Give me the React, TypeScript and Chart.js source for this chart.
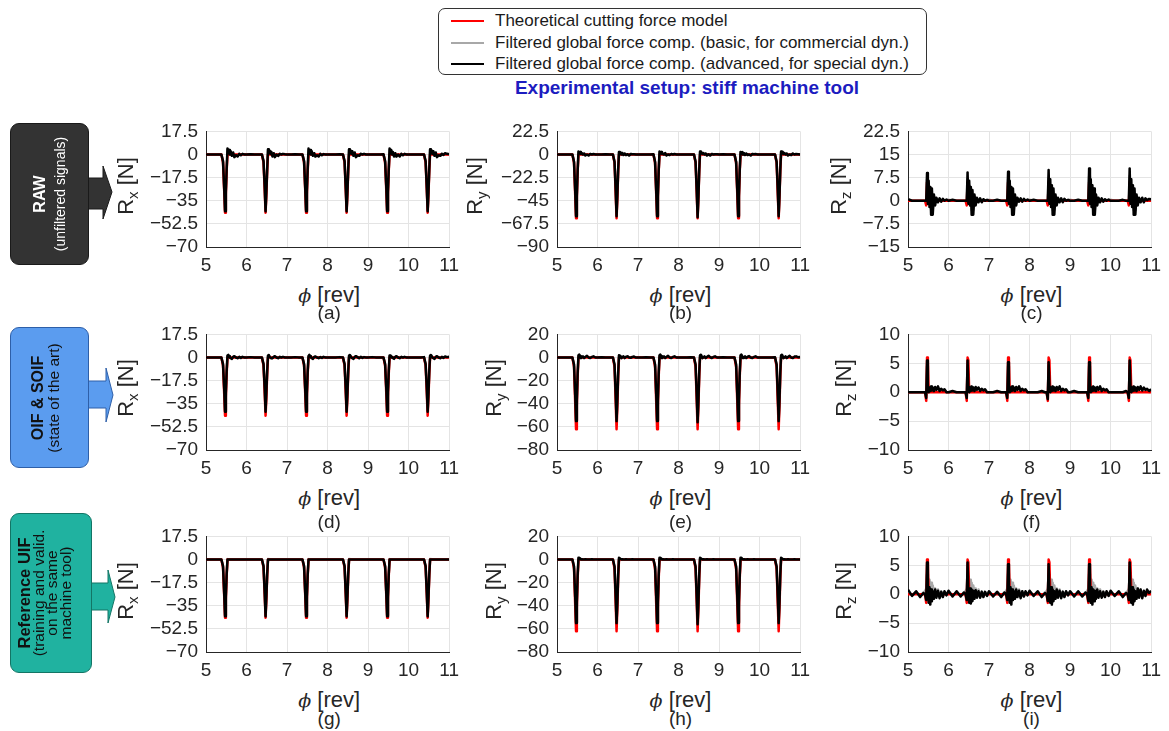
import React, { useEffect, useRef } from "react";
import { Chart, registerables } from "chart.js";

Chart.register(...registerables);

// ---- shaft angle sampling: every revolution uses the same in-revolution positions ----
const REV_STARTS = [5, 6, 7, 8, 9, 10];
const REV_OFFSETS = [0, 0.1, 0.2, 0.3, 0.38, 0.42, 0.45, 0.47, 0.49, 0.51, 0.53, 0.55, 0.57, 0.59, 0.61, 0.64, 0.67, 0.7, 0.74, 0.78, 0.82, 0.86, 0.9, 0.95];
const PHI_END = 11;
const PHI: number[] = REV_STARTS.flatMap((r) => REV_OFFSETS.map((o) => Math.round((r + o) * 100) / 100)).concat([PHI_END]);

// ---- tick labels ----
const PHI_TICKS = [5, 6, 7, 8, 9, 10, 11];
const RX_TICKS = [-70, -52.5, -35, -17.5, 0, 17.5];
const RY_RAW_TICKS = [-90, -67.5, -45, -22.5, 0, 22.5];
const RZ_RAW_TICKS = [-15, -7.5, 0, 7.5, 15, 22.5];
const RY_TICKS = [-80, -60, -40, -20, 0, 20];
const RZ_TICKS = [-10, -5, 0, 5, 10];

// ---- theoretical cutting force model [N] ----
const MODEL_RX = [
  0, 0, 0, 0, 0, -6, -28, -44, -30, -12, 0, 0, 0, 0, 0, 0, 0, 0, 0, 0, 0, 0, 0, 0,
  0, 0, 0, 0, 0, -6, -28, -44, -30, -12, 0, 0, 0, 0, 0, 0, 0, 0, 0, 0, 0, 0, 0, 0,
  0, 0, 0, 0, 0, -6, -28, -44, -30, -12, 0, 0, 0, 0, 0, 0, 0, 0, 0, 0, 0, 0, 0, 0,
  0, 0, 0, 0, 0, -6, -28, -44, -30, -12, 0, 0, 0, 0, 0, 0, 0, 0, 0, 0, 0, 0, 0, 0,
  0, 0, 0, 0, 0, -6, -28, -44, -30, -12, 0, 0, 0, 0, 0, 0, 0, 0, 0, 0, 0, 0, 0, 0,
  0, 0, 0, 0, 0, -6, -28, -44, -30, -12, 0, 0, 0, 0, 0, 0, 0, 0, 0, 0, 0, 0, 0, 0,
  0,
];
const MODEL_RY = [
  0, 0, 0, 0, 0, -8, -40, -62, -42, -16, 0, 0, 0, 0, 0, 0, 0, 0, 0, 0, 0, 0, 0, 0,
  0, 0, 0, 0, 0, -8, -40, -62, -42, -16, 0, 0, 0, 0, 0, 0, 0, 0, 0, 0, 0, 0, 0, 0,
  0, 0, 0, 0, 0, -8, -40, -62, -42, -16, 0, 0, 0, 0, 0, 0, 0, 0, 0, 0, 0, 0, 0, 0,
  0, 0, 0, 0, 0, -8, -40, -62, -42, -16, 0, 0, 0, 0, 0, 0, 0, 0, 0, 0, 0, 0, 0, 0,
  0, 0, 0, 0, 0, -8, -40, -62, -42, -16, 0, 0, 0, 0, 0, 0, 0, 0, 0, 0, 0, 0, 0, 0,
  0, 0, 0, 0, 0, -8, -40, -62, -42, -16, 0, 0, 0, 0, 0, 0, 0, 0, 0, 0, 0, 0, 0, 0,
  0,
];
const MODEL_RZ = [
  0, 0, 0, 0, 0, 0, -1.5, 6, 5.5, 0, 0, 0, 0, 0, 0, 0, 0, 0, 0, 0, 0, 0, 0, 0,
  0, 0, 0, 0, 0, 0, -1.5, 6, 5.5, 0, 0, 0, 0, 0, 0, 0, 0, 0, 0, 0, 0, 0, 0, 0,
  0, 0, 0, 0, 0, 0, -1.5, 6, 5.5, 0, 0, 0, 0, 0, 0, 0, 0, 0, 0, 0, 0, 0, 0, 0,
  0, 0, 0, 0, 0, 0, -1.5, 6, 5.5, 0, 0, 0, 0, 0, 0, 0, 0, 0, 0, 0, 0, 0, 0, 0,
  0, 0, 0, 0, 0, 0, -1.5, 6, 5.5, 0, 0, 0, 0, 0, 0, 0, 0, 0, 0, 0, 0, 0, 0, 0,
  0, 0, 0, 0, 0, 0, -1.5, 6, 5.5, 0, 0, 0, 0, 0, 0, 0, 0, 0, 0, 0, 0, 0, 0, 0,
  0,
];

// ---- RAW (unfiltered signals) ----
const RAW_RX_BLACK = [
  0, 0, 0, 0, 0, -5, -26, -43, -28, -11, 4.5, 1, 3.5, 0, 2.5, -1, 1.5, -2, -0.5, -1.5, 0.5, -0.5, 0.5, 0,
  0, 0.2, 0, 0, 0, -5, -25, -43, -28, -11, 4, 1.5, 3, 0.5, 2, -1.5, 1, -2, 0, -1, 0.5, 0, 0.5, 0.2,
  0, 0, 0.2, 0, 0, -5, -26, -43, -27, -10, 4.5, 0.5, 3.5, 0, 2.5, -1, 1, -1.5, -0.5, -1.5, 0.5, -0.5, 0.3, 0,
  0, 0, 0, 0.2, 0, -5, -26, -43, -28, -11, 4, 1, 3, 0.5, 2.5, -1, 1.5, -2, -0.5, -1, 0.5, 0, 0.5, 0,
  0, 0, 0, 0, 0.2, -5, -25, -43, -28, -11, 4.5, 1, 3.5, 0, 2, -1.5, 1, -1.5, 0, -1.5, 0.5, -0.5, 0.5, 0,
  0, 0, 0, 0, 0, -5, -26, -43, -28, -11, 4, 1, 3, 0.5, 2.5, -1, 1.5, -2, -0.5, -1, 0.5, -0.3, 1, 0.5,
  0.3,
];
const RAW_RX_GRAY = [
  0, 0, 0, 0, 0, -5, -26, -42, -28, -11, 3.5, 1.5, 2.5, 0.5, 2, -0.5, 1, -1.5, -0.5, -1, 0.5, 0, 0.3, 0,
  0, 0, 0, 0, 0, -5, -26, -42, -28, -11, 3.5, 1.5, 2.5, 0.5, 2, -0.5, 1, -1.5, -0.5, -1, 0.5, 0, 0.3, 0,
  0, 0, 0, 0, 0, -5, -26, -42, -28, -11, 3.5, 1.5, 2.5, 0.5, 2, -0.5, 1, -1.5, -0.5, -1, 0.5, 0, 0.3, 0,
  0, 0, 0, 0, 0, -5, -26, -42, -28, -11, 3.5, 1.5, 2.5, 0.5, 2, -0.5, 1, -1.5, -0.5, -1, 0.5, 0, 0.3, 0,
  0, 0, 0, 0, 0, -5, -26, -42, -28, -11, 3.5, 1.5, 2.5, 0.5, 2, -0.5, 1, -1.5, -0.5, -1, 0.5, 0, 0.3, 0,
  0, 0, 0, 0, 0, -5, -26, -42, -28, -11, 3.5, 1.5, 2.5, 0.5, 2, -0.5, 1, -1.5, -0.5, -1, 0.5, 0, 0.3, 0,
  0,
];
const RAW_RY_BLACK = [
  0, 0, 0, 0, 0, -7, -36, -60, -40, -15, 3, 1, 2.5, 0.5, 1.5, 0, 1, -1, 0, -1, 0.5, 0, 0.5, 0,
  0, 0, 0.3, 0, 0, -7, -36, -60, -39, -14, 2.5, 1.5, 2, 0, 1.5, -0.5, 1, -0.5, 0.3, -1, 0.5, 0.2, 0.3, 0,
  0, 0, 0, 0, 0.2, -7, -37, -60, -40, -15, 3, 1, 2.5, 0.5, 1, 0, 1.5, -1, 0, -0.5, 0.5, 0, 0.5, 0,
  0, 0, 0, 0, 0, -7, -37, -61, -41, -15, 3, 1, 2, 0.5, 1.5, 0, 1, -1, 0.3, -1, 0.5, 0, 0.3, 0.2,
  0, 0.2, 0, 0, 0, -7, -36, -60, -40, -14, 2.5, 1.5, 2.5, 0, 1.5, -0.5, 1, -0.5, 0, -1, 0.5, 0.2, 0.5, 0,
  0, 0, 0, 0, 0, -7, -36, -60, -40, -15, 3, 1, 2.5, 0.5, 1.5, 0, 1, -1, 0, -0.5, 1, 0, 0.5, 0.3,
  0,
];
const RAW_RY_GRAY = [
  0, 0, 0, 0, 0, -7, -36, -59, -39, -15, 2.5, 1.5, 2, 0.5, 1, 0, 1, -0.5, 0, -0.5, 0.5, 0, 0.3, 0,
  0, 0, 0, 0, 0, -7, -36, -59, -39, -15, 2.5, 1.5, 2, 0.5, 1, 0, 1, -0.5, 0, -0.5, 0.5, 0, 0.3, 0,
  0, 0, 0, 0, 0, -7, -36, -59, -39, -15, 2.5, 1.5, 2, 0.5, 1, 0, 1, -0.5, 0, -0.5, 0.5, 0, 0.3, 0,
  0, 0, 0, 0, 0, -7, -36, -59, -39, -15, 2.5, 1.5, 2, 0.5, 1, 0, 1, -0.5, 0, -0.5, 0.5, 0, 0.3, 0,
  0, 0, 0, 0, 0, -7, -36, -59, -39, -15, 2.5, 1.5, 2, 0.5, 1, 0, 1, -0.5, 0, -0.5, 0.5, 0, 0.3, 0,
  0, 0, 0, 0, 0, -7, -36, -59, -39, -15, 2.5, 1.5, 2, 0.5, 1, 0, 1, -0.5, 0, -0.5, 0.5, 0, 0.3, 0,
  0,
];
const RAW_RZ_BLACK = [
  0.5, 0, 0, 0, 0, 0, 0, 9, -1, 6.5, -2, 4.5, -4.5, 4, -4.5, 2, -1.5, 1, -0.5, 0.8, -0.3, 0.6, 0, 0.4,
  0, 0.3, 0, 0, 0, 0, 0, 9.2, -1, 6.5, -1.5, 4.5, -4.5, 3.5, -4.5, 2, -1.5, 1, -0.5, 0.8, -0.5, 0.5, 0, 0.3,
  0, 0, 0.3, 0, 0, 0, 0, 9.4, -1, 6.5, -2, 4.5, -4.5, 4, -4.5, 2, -1.5, 1, -0.3, 0.8, -0.3, 0.6, 0, 0.4,
  0, 0.3, 0, 0, 0, 0, 0, 10, -1, 7, -2, 5, -4.5, 4, -4.5, 2, -1.5, 1, -0.5, 0.8, -0.5, 0.6, 0, 0.3,
  0, 0, 0.3, 0, 0, 0, 0, 10.5, -1, 7, -2, 5, -4.5, 4, -4.5, 2, -1.5, 1, -0.5, 0.8, -0.3, 0.5, 0, 0.4,
  0, 0, 0, 0.3, 0, 0, 0, 10.5, -1, 7, -2, 5, -4.5, 4, -4.5, 2, -1.5, 1, -0.5, 1, -0.5, 0.8, 0.2, 0.6,
  0.5,
];
const RAW_RZ_GRAY = [
  0.3, 0, 0, 0, 0, 0, 0, 7, 0, 5, -1, 3.5, -3, 3, -3, 1.5, -1, 0.8, -0.3, 0.5, -0.2, 0.4, 0, 0.2,
  0.3, 0, 0, 0, 0, 0, 0, 7, 0, 5, -1, 3.5, -3, 3, -3, 1.5, -1, 0.8, -0.3, 0.5, -0.2, 0.4, 0, 0.2,
  0.3, 0, 0, 0, 0, 0, 0, 7, 0, 5, -1, 3.5, -3, 3, -3, 1.5, -1, 0.8, -0.3, 0.5, -0.2, 0.4, 0, 0.2,
  0.3, 0, 0, 0, 0, 0, 0, 7.5, 0, 5, -1, 3.5, -3, 3, -3, 1.5, -1, 0.8, -0.3, 0.5, -0.2, 0.4, 0, 0.2,
  0.3, 0, 0, 0, 0, 0, 0, 8, 0, 5, -1, 3.5, -3, 3, -3, 1.5, -1, 0.8, -0.3, 0.5, -0.2, 0.4, 0, 0.2,
  0.3, 0, 0, 0, 0, 0, 0, 8, 0, 5, -1, 3.5, -3, 3, -3, 1.5, -1, 0.8, -0.3, 0.5, -0.2, 0.4, 0, 0.2,
  0.3,
];

// ---- OIF & SOIF (state of the art) ----
const OIF_RX_BLACK = [
  0, 0, 0, 0, 0, -5, -24, -41, -27, -10, 1.5, 2, 1, 0, -0.5, -1, 0.5, 1, 0, -0.5, 0.5, -0.3, 0.5, 0,
  0, 0.3, 0, 0, 0, -5, -24, -41, -26, -10, 1.5, 2, 0.5, 0, -0.5, -0.5, 0.5, 1, 0, -0.5, 0.5, 0, 0.5, 0,
  0, 0, 0.3, 0, 0, -5, -25, -41, -27, -10, 1, 2, 1, 0.3, -0.5, -1, 0.5, 0.8, 0, -0.5, 0.3, -0.3, 0.5, 0,
  0, 0, 0, 0.3, 0, -5, -24, -41, -27, -10, 1.5, 2, 1, 0, -0.5, -1, 0.5, 1, 0.3, -0.5, 0.5, -0.3, 0.3, 0,
  0, 0.3, 0, 0, 0, -5, -24, -41, -26, -10, 1.5, 1.5, 1, 0, -0.3, -1, 0.5, 1, 0, -0.5, 0.5, 0, 0.5, 0,
  0, 0, 0, 0, 0.3, -5, -24, -41, -27, -10, 1.5, 2, 1, 0, -0.5, -1, 0.5, 1, 0, -0.5, 0.5, -0.3, 0.8, 0.3,
  0.5,
];
const OIF_RX_GRAY = [
  0, 0, 0, 0, 0, -5, -24, -40, -26, -10, 1, 1.5, 1, 0.3, -0.3, -0.5, 0.3, 0.8, 0, -0.3, 0.3, 0, 0.3, 0,
  0, 0, 0, 0, 0, -5, -24, -40, -26, -10, 1, 1.5, 1, 0.3, -0.3, -0.5, 0.3, 0.8, 0, -0.3, 0.3, 0, 0.3, 0,
  0, 0, 0, 0, 0, -5, -24, -40, -26, -10, 1, 1.5, 1, 0.3, -0.3, -0.5, 0.3, 0.8, 0, -0.3, 0.3, 0, 0.3, 0,
  0, 0, 0, 0, 0, -5, -24, -40, -26, -10, 1, 1.5, 1, 0.3, -0.3, -0.5, 0.3, 0.8, 0, -0.3, 0.3, 0, 0.3, 0,
  0, 0, 0, 0, 0, -5, -24, -40, -26, -10, 1, 1.5, 1, 0.3, -0.3, -0.5, 0.3, 0.8, 0, -0.3, 0.3, 0, 0.3, 0,
  0, 0, 0, 0, 0, -5, -24, -40, -26, -10, 1, 1.5, 1, 0.3, -0.3, -0.5, 0.3, 0.8, 0, -0.3, 0.3, 0, 0.3, 0,
  0.3,
];
const OIF_RY_BLACK = [
  0, 0, 0, 0, 0, -6, -33, -55, -37, -13, 2, 2.5, 1, -0.5, 0, 1, -0.5, 0.5, 1.5, 0, -0.5, 0.5, 1, 0,
  0, 0.3, 0, 0, 0, -6, -33, -55, -36, -13, 2, 2, 1, -0.5, 0.3, 1, -0.5, 0.5, 1, 0, -0.3, 0.5, 0.8, 0,
  0, 0, 0.3, 0, 0, -6, -33, -55, -37, -13, 2, 2.5, 1, -0.5, 0, 1, -0.5, 0.5, 1.5, 0, -0.5, 0.5, 1, 0,
  0, 0, 0, 0.3, 0, -6, -34, -56, -37, -13, 2, 2.5, 1, -0.5, 0, 1, -0.5, 0.5, 1.5, 0.3, -0.5, 0.5, 1, 0,
  0, 0.3, 0, 0, 0, -6, -33, -55, -37, -13, 2, 2.5, 1, -0.5, 0, 1, -0.5, 0.5, 1.2, 0, -0.5, 0.5, 1, 0,
  0, 0, 0, 0, 0.3, -6, -33, -55, -37, -13, 2, 2.5, 1, -0.5, 0, 1, -0.5, 0.5, 1.5, 0, -0.5, 0.8, 1, 0.3,
  0.5,
];
const OIF_RY_GRAY = [
  0, 0, 0, 0, 0, -6, -33, -54, -36, -13, 1.5, 2, 1, 0, 0, 0.5, 0, 0.5, 1, 0, 0, 0.3, 0.5, 0,
  0, 0, 0, 0, 0, -6, -33, -54, -36, -13, 1.5, 2, 1, 0, 0, 0.5, 0, 0.5, 1, 0, 0, 0.3, 0.5, 0,
  0, 0, 0, 0, 0, -6, -33, -54, -36, -13, 1.5, 2, 1, 0, 0, 0.5, 0, 0.5, 1, 0, 0, 0.3, 0.5, 0,
  0, 0, 0, 0, 0, -6, -33, -54, -36, -13, 1.5, 2, 1, 0, 0, 0.5, 0, 0.5, 1, 0, 0, 0.3, 0.5, 0,
  0, 0, 0, 0, 0, -6, -33, -54, -36, -13, 1.5, 2, 1, 0, 0, 0.5, 0, 0.5, 1, 0, 0, 0.3, 0.5, 0,
  0, 0, 0, 0, 0, -6, -33, -54, -36, -13, 1.5, 2, 1, 0, 0, 0.5, 0, 0.5, 1, 0, 0, 0.3, 0.5, 0,
  0.3,
];
const OIF_RZ_BLACK = [
  0, 0, 0, 0, 0, 0, -1, 5.5, 1, 0, 0.8, 0.2, 1, 0.3, 0.8, 0.2, 0.9, 0.4, 1, 0.2, 0.6, 0.3, 0.5, 0,
  0, 0.2, 0, 0, 0, 0, -1, 5.5, 1, 0, 0.8, 0.2, 1, 0.3, 0.8, 0.2, 0.9, 0.4, 0.8, 0.2, 0.6, 0.3, 0.5, 0,
  0, 0, 0.2, 0, 0, 0, -1, 5.2, 1, 0, 0.8, 0.2, 1, 0.3, 0.8, 0.2, 0.9, 0.4, 1, 0.2, 0.6, 0.3, 0.5, 0,
  0, 0, 0, 0.2, 0, 0, -1.2, 5.2, 1, 0, 0.8, 0.2, 1, 0.3, 0.8, 0.2, 0.9, 0.4, 1, 0.2, 0.6, 0.3, 0.5, 0,
  0, 0.2, 0, 0, 0, 0, -1, 5.2, 1, 0, 0.8, 0.2, 1, 0.3, 0.8, 0.2, 0.9, 0.4, 1, 0.2, 0.6, 0.3, 0.5, 0,
  0, 0, 0, 0, 0.2, 0, -1, 5.5, 1, 0, 0.8, 0.2, 1, 0.3, 0.8, 0.2, 0.9, 0.4, 1, 0.3, 0.8, 0.4, 0.6, 0.2,
  0.5,
];
const OIF_RZ_GRAY = [
  0, 0, 0, 0, 0, 0, -0.5, 4.5, 1.5, 0.5, 1, 0.5, 1, 0.5, 0.8, 0.3, 0.8, 0.5, 0.8, 0.3, 0.5, 0.3, 0.4, 0,
  0, 0, 0, 0, 0, 0, -0.5, 4.5, 1.5, 0.5, 1, 0.5, 1, 0.5, 0.8, 0.3, 0.8, 0.5, 0.8, 0.3, 0.5, 0.3, 0.4, 0,
  0, 0, 0, 0, 0, 0, -0.5, 4.5, 1.5, 0.5, 1, 0.5, 1, 0.5, 0.8, 0.3, 0.8, 0.5, 0.8, 0.3, 0.5, 0.3, 0.4, 0,
  0, 0, 0, 0, 0, 0, -0.5, 4.5, 1.5, 0.5, 1, 0.5, 1, 0.5, 0.8, 0.3, 0.8, 0.5, 0.8, 0.3, 0.5, 0.3, 0.4, 0,
  0, 0, 0, 0, 0, 0, -0.5, 4.5, 1.5, 0.5, 1, 0.5, 1, 0.5, 0.8, 0.3, 0.8, 0.5, 0.8, 0.3, 0.5, 0.3, 0.4, 0,
  0, 0, 0, 0, 0, 0, -0.5, 4.5, 1.5, 0.5, 1, 0.5, 1, 0.5, 0.8, 0.3, 0.8, 0.5, 0.8, 0.3, 0.5, 0.3, 0.4, 0,
  0.3,
];

// ---- Reference UIF (training and validation on the same machine tool) ----
const UIF_RX_BLACK = [
  0, 0, 0, 0, 0, -5, -26, -43, -28, -11, 0, 0, 0, 0, 0, 0, 0, 0, 0, 0, 0, 0, 0, 0,
  0, 0, 0, 0, 0, -5, -26, -43, -28, -11, 0, 0, 0, 0, 0, 0, 0, 0, 0, 0, 0, 0, 0, 0,
  0, 0, 0, 0, 0, -5, -26, -43, -28, -11, 0, 0, 0, 0, 0, 0, 0, 0, 0, 0, 0, 0, 0, 0,
  0, 0, 0, 0, 0, -5, -26, -43, -28, -11, 0, 0, 0, 0, 0, 0, 0, 0, 0, 0, 0, 0, 0, 0,
  0, 0, 0, 0, 0, -5, -26, -43, -28, -11, 0, 0, 0, 0, 0, 0, 0, 0, 0, 0, 0, 0, 0, 0,
  0, 0, 0, 0, 0, -5, -26, -43, -28, -11, 0, 0, 0, 0, 0, 0, 0, 0, 0, 0, 0, 0, 0, 0,
  0,
];
const UIF_RX_GRAY = [
  0, 0, 0, 0, 0, -5, -26, -42, -28, -11, 0.3, 0, 0, 0, 0, 0, 0, 0, 0, 0, 0, 0, 0, 0,
  0, 0, 0, 0, 0, -5, -26, -42, -28, -11, 0.3, 0, 0, 0, 0, 0, 0, 0, 0, 0, 0, 0, 0, 0,
  0, 0, 0, 0, 0, -5, -26, -42, -28, -11, 0.3, 0, 0, 0, 0, 0, 0, 0, 0, 0, 0, 0, 0, 0,
  0, 0, 0, 0, 0, -5, -26, -42, -28, -11, 0.3, 0, 0, 0, 0, 0, 0, 0, 0, 0, 0, 0, 0, 0,
  0, 0, 0, 0, 0, -5, -26, -42, -28, -11, 0.3, 0, 0, 0, 0, 0, 0, 0, 0, 0, 0, 0, 0, 0,
  0, 0, 0, 0, 0, -5, -26, -42, -28, -11, 0.3, 0, 0, 0, 0, 0, 0, 0, 0, 0, 0, 0, 0, 0,
  0,
];
const UIF_RY_BLACK = [
  0, 0, 0, 0, 0, -6, -33, -55, -37, -13, 1.5, 1.5, 0.5, 0, 0.3, 0, 0, 0.2, 0, 0, 0, 0.2, 0, 0,
  0, 0, 0, 0, 0, -6, -33, -55, -37, -13, 1.5, 1.5, 0.5, 0, 0.3, 0, 0, 0.2, 0, 0, 0, 0.2, 0, 0,
  0, 0, 0, 0, 0, -6, -33, -55, -37, -13, 1.5, 1.5, 0.5, 0, 0.3, 0, 0, 0.2, 0, 0, 0, 0.2, 0, 0,
  0, 0, 0, 0, 0, -6, -34, -56, -37, -13, 1.5, 1.5, 0.5, 0, 0.3, 0, 0, 0.2, 0, 0, 0, 0.2, 0, 0,
  0, 0, 0, 0, 0, -6, -33, -55, -37, -13, 1.5, 1.5, 0.5, 0, 0.3, 0, 0, 0.2, 0, 0, 0, 0.2, 0, 0,
  0, 0, 0, 0, 0, -6, -33, -55, -37, -13, 1.5, 1.5, 0.5, 0, 0.3, 0, 0, 0.2, 0, 0, 0, 0.2, 0, 0,
  0,
];
const UIF_RY_GRAY = [
  0, 0, 0, 0, 0, -6, -33, -54, -36, -13, 1, 1, 0.5, 0, 0, 0, 0, 0, 0, 0, 0, 0, 0, 0,
  0, 0, 0, 0, 0, -6, -33, -54, -36, -13, 1, 1, 0.5, 0, 0, 0, 0, 0, 0, 0, 0, 0, 0, 0,
  0, 0, 0, 0, 0, -6, -33, -54, -36, -13, 1, 1, 0.5, 0, 0, 0, 0, 0, 0, 0, 0, 0, 0, 0,
  0, 0, 0, 0, 0, -6, -33, -54, -36, -13, 1, 1, 0.5, 0, 0, 0, 0, 0, 0, 0, 0, 0, 0, 0,
  0, 0, 0, 0, 0, -6, -33, -54, -36, -13, 1, 1, 0.5, 0, 0, 0, 0, 0, 0, 0, 0, 0, 0, 0,
  0, 0, 0, 0, 0, -6, -33, -54, -36, -13, 1, 1, 0.5, 0, 0, 0, 0, 0, 0, 0, 0, 0, 0, 0,
  0,
];
const UIF_RZ_BLACK = [
  0.8, -0.3, 0.5, -0.5, 0.2, 0, -1, 5.5, 0.5, -1.5, 1.2, -1.8, 0.8, -1.2, 0.5, -0.8, 0.8, -0.6, 0.6, -0.7, 0.4, -0.5, 0.5, -0.2,
  0.6, -0.4, 0.5, -0.4, 0.3, 0, -1, 5.5, 0.5, -1.5, 1, -1.6, 0.8, -1.2, 0.6, -0.8, 0.7, -0.6, 0.5, -0.6, 0.4, -0.5, 0.4, -0.3,
  0.5, -0.4, 0.4, -0.5, 0.3, 0, -1, 5.2, 0.5, -1.5, 1.2, -1.8, 0.8, -1, 0.5, -0.8, 0.8, -0.5, 0.6, -0.7, 0.5, -0.4, 0.5, -0.2,
  0.6, -0.3, 0.5, -0.5, 0.2, 0, -1.2, 5.2, 0.5, -1.5, 1.2, -1.8, 0.8, -1.2, 0.5, -0.8, 0.8, -0.6, 0.6, -0.7, 0.4, -0.5, 0.5, -0.2,
  0.5, -0.4, 0.5, -0.4, 0.3, 0, -1.2, 5.2, 0.5, -1.5, 1.2, -1.8, 0.8, -1.2, 0.6, -0.8, 0.8, -0.6, 0.5, -0.6, 0.4, -0.5, 0.5, -0.3,
  0.6, -0.3, 0.5, -0.5, 0.2, 0, -1, 5.5, 0.5, -1.5, 1.2, -1.8, 0.8, -1.2, 0.5, -0.8, 1, -0.6, 0.8, -0.7, 0.6, -0.3, 0.8, 0.2,
  0.6,
];
const UIF_RZ_GRAY = [
  0.5, -0.2, 0.4, -0.3, 0.3, 0.5, 1, 3.5, 3, 1, 2.5, 0, 2, -0.5, 1.5, 0, 1, -0.3, 0.8, -0.5, 0.5, -0.3, 0.4, 0,
  0.5, -0.2, 0.4, -0.3, 0.3, 0.5, 1, 3.5, 3, 1, 2.5, 0, 2, -0.5, 1.5, 0, 1, -0.3, 0.8, -0.5, 0.5, -0.3, 0.4, 0,
  0.5, -0.2, 0.4, -0.3, 0.3, 0.5, 1, 3.5, 3, 1, 2.5, 0, 2, -0.5, 1.5, 0, 1, -0.3, 0.8, -0.5, 0.5, -0.3, 0.4, 0,
  0.5, -0.2, 0.4, -0.3, 0.3, 0.5, 1, 3.5, 3, 1, 2.5, 0, 2, -0.5, 1.5, 0, 1, -0.3, 0.8, -0.5, 0.5, -0.3, 0.4, 0,
  0.5, -0.2, 0.4, -0.3, 0.3, 0.5, 1, 3.5, 3, 1, 2.5, 0, 2, -0.5, 1.5, 0, 1, -0.3, 0.8, -0.5, 0.5, -0.3, 0.4, 0,
  0.5, -0.2, 0.4, -0.3, 0.3, 0.5, 1, 3.5, 3, 1, 2.5, 0, 2, -0.5, 1.5, 0, 1, -0.3, 0.8, -0.5, 0.5, -0.3, 0.4, 0,
  0.5,
];

const LEGEND_LABELS = [
  "Theoretical cutting force model",
  "Filtered global force comp. (basic, for commercial dyn.)",
  "Filtered global force comp. (advanced, for special dyn.)",
];
const TITLE = "Experimental setup: stiff machine tool";

// ---- styling / layout ----
const FONT = "'Liberation Sans', Arial, Helvetica, sans-serif";
const TEXT = "#262626";
const GRID = "#e4e4e4";
const RED = "#ff0000";
const GRAY = "#a8a8a8";
const BLACK = "#000000";

const COL_LEFT = [205.7, 557, 908];
const ROW_TOP = [124, 326.7, 529.3];
const PLOT_W = 247;
const PLOT_H = 123;
const YW = 80; // room for y tick labels
const RP = 13;
const TP = 12;
const XH = 32;
const CW = YW + PLOT_W + RP;
const CH = TP + PLOT_H + XH;
const YLABEL_OFF = [
  [77, 79, 66],
  [77, 60, 61],
  [77, 60, 61],
];
const TAG_OFF = [66, 72, 67];

type PanelDef = {
  row: number;
  col: number;
  comp: string;
  ticks: number[];
  model: number[];
  gray: number[];
  black: number[];
  tag: string;
};

const PANELS: PanelDef[] = [
  { row: 0, col: 0, comp: "x", ticks: RX_TICKS, model: MODEL_RX, gray: RAW_RX_GRAY, black: RAW_RX_BLACK, tag: "(a)" },
  { row: 0, col: 1, comp: "y", ticks: RY_RAW_TICKS, model: MODEL_RY, gray: RAW_RY_GRAY, black: RAW_RY_BLACK, tag: "(b)" },
  { row: 0, col: 2, comp: "z", ticks: RZ_RAW_TICKS, model: MODEL_RZ, gray: RAW_RZ_GRAY, black: RAW_RZ_BLACK, tag: "(c)" },
  { row: 1, col: 0, comp: "x", ticks: RX_TICKS, model: MODEL_RX, gray: OIF_RX_GRAY, black: OIF_RX_BLACK, tag: "(d)" },
  { row: 1, col: 1, comp: "y", ticks: RY_TICKS, model: MODEL_RY, gray: OIF_RY_GRAY, black: OIF_RY_BLACK, tag: "(e)" },
  { row: 1, col: 2, comp: "z", ticks: RZ_TICKS, model: MODEL_RZ, gray: OIF_RZ_GRAY, black: OIF_RZ_BLACK, tag: "(f)" },
  { row: 2, col: 0, comp: "x", ticks: RX_TICKS, model: MODEL_RX, gray: UIF_RX_GRAY, black: UIF_RX_BLACK, tag: "(g)" },
  { row: 2, col: 1, comp: "y", ticks: RY_TICKS, model: MODEL_RY, gray: UIF_RY_GRAY, black: UIF_RY_BLACK, tag: "(h)" },
  { row: 2, col: 2, comp: "z", ticks: RZ_TICKS, model: MODEL_RZ, gray: UIF_RZ_GRAY, black: UIF_RZ_BLACK, tag: "(i)" },
];

const fmtTick = (v: number) => (v < 0 ? "\u2212" + String(Math.abs(v)) : String(v));

function ForcePanel({ def }: { def: PanelDef }) {
  const ref = useRef<HTMLCanvasElement | null>(null);
  useEffect(() => {
    const canvas = ref.current;
    if (!canvas) return;
    const pts = (vals: number[]) => PHI.map((x, i) => ({ x, y: vals[i] }));
    const line = (label: string, vals: number[], color: string, width: number, order: number) => ({
      label,
      data: pts(vals),
      borderColor: color,
      backgroundColor: color,
      borderWidth: width,
      pointRadius: 0,
      tension: 0,
      fill: false,
      borderJoinStyle: "round" as const,
      order,
    });
    const tickFont = { family: FONT, size: 19 };
    const chart = new Chart(canvas, {
      type: "line",
      data: {
        datasets: [
          line(LEGEND_LABELS[2], def.black, BLACK, 2.5, 0),
          line(LEGEND_LABELS[0], def.model, RED, 2.5, 1),
          line(LEGEND_LABELS[1], def.gray, GRAY, 2.5, 2),
        ],
      },
      options: {
        animation: false,
        responsive: false,
        events: [],
        layout: { padding: { top: TP, right: RP, left: 0, bottom: 0 } },
        plugins: { legend: { display: false }, tooltip: { enabled: false } },
        scales: {
          x: {
            type: "linear",
            min: PHI_TICKS[0],
            max: PHI_TICKS[PHI_TICKS.length - 1],
            afterBuildTicks: (s: any) => {
              s.ticks = PHI_TICKS.map((v) => ({ value: v }));
            },
            afterFit: (s: any) => {
              s.height = XH;
            },
            ticks: { font: tickFont, color: TEXT, padding: 7, maxRotation: 0, autoSkip: false, callback: (v: any) => fmtTick(Number(v)) },
            grid: { color: GRID, lineWidth: 1, drawTicks: false },
            border: { display: true, color: TEXT, width: 1 },
          },
          y: {
            type: "linear",
            min: def.ticks[0],
            max: def.ticks[def.ticks.length - 1],
            afterBuildTicks: (s: any) => {
              s.ticks = def.ticks.map((v) => ({ value: v }));
            },
            afterFit: (s: any) => {
              s.width = YW;
            },
            ticks: { font: tickFont, color: TEXT, padding: 8, autoSkip: false, callback: (v: any) => fmtTick(Number(v)) },
            grid: { color: GRID, lineWidth: 1, drawTicks: false },
            border: { display: true, color: TEXT, width: 1 },
          },
        },
      },
    } as any);
    return () => chart.destroy();
  }, [def]);

  const left = COL_LEFT[def.col] - YW;
  const top = ROW_TOP[def.row] - TP;
  return <canvas ref={ref} width={CW} height={CH} style={{ position: "absolute", left, top }} />;
}

function PanelText({ def }: { def: PanelDef }) {
  const pl = COL_LEFT[def.col];
  const pt = ROW_TOP[def.row];
  const pb = pt + PLOT_H;
  const cx = pl + PLOT_W / 2;
  return (
    <>
      <div
        style={{
          position: "absolute",
          left: pl - YLABEL_OFF[def.row][def.col],
          top: pt + PLOT_H / 2,
          transform: "translate(-50%, -50%) rotate(-90deg)",
          whiteSpace: "nowrap",
          fontSize: 22,
          color: TEXT,
          lineHeight: "24px",
        }}
      >
        R<sub style={{ fontSize: 15, verticalAlign: "-5px" }}>{def.comp}</sub> [N]
      </div>
      <div
        style={{
          position: "absolute",
          left: cx,
          top: pb + 48,
          transform: "translate(-50%, -50%)",
          whiteSpace: "nowrap",
          fontSize: 22,
          color: TEXT,
          lineHeight: "24px",
        }}
      >
        <span style={{ fontStyle: "italic", fontFamily: "'DejaVu Serif', serif", fontSize: 19 }}>{"\u03D5"}</span> [rev]
      </div>
      <div
        style={{
          position: "absolute",
          left: cx,
          top: pb + TAG_OFF[def.row],
          transform: "translate(-50%, -50%)",
          whiteSpace: "nowrap",
          fontSize: 19,
          color: TEXT,
          lineHeight: "20px",
        }}
      >
        {def.tag}
      </div>
    </>
  );
}

function SideLabel(props: {
  x: number; y: number; w: number; h: number; fill: string; stroke: string; color: string;
  textX: number; lineH: number; lines: { t: string; bold?: boolean; size: number }[];
}) {
  const { x, y, w, h, fill, stroke, color, textX, lineH, lines } = props;
  return (
    <>
      <div
        style={{
          position: "absolute",
          left: x,
          top: y,
          width: w,
          height: h,
          boxSizing: "border-box",
          background: fill,
          border: `1.5px solid ${stroke}`,
          borderRadius: 9,
        }}
      />
      <div
        style={{
          position: "absolute",
          left: textX,
          top: y + h / 2,
          transform: "translate(-50%, -50%) rotate(-90deg)",
          textAlign: "center",
          whiteSpace: "nowrap",
          color,
          lineHeight: `${lineH}px`,
        }}
      >
        {lines.map((l, i) => (
          <div key={i} style={{ fontWeight: l.bold ? 700 : 400, fontSize: l.size }}>
            {l.t}
          </div>
        ))}
      </div>
    </>
  );
}

export default function App() {
  return (
    <div
      style={{
        position: "absolute",
        left: 0,
        top: 0,
        width: 1169,
        height: 731,
        overflow: "hidden",
        background: "#ffffff",
        fontFamily: FONT,
      }}
    >
      {PANELS.map((p, i) => (
        <ForcePanel key={i} def={p} />
      ))}
      {PANELS.map((p, i) => (
        <PanelText key={"t" + i} def={p} />
      ))}

      {/* legend */}
      <div
        style={{
          position: "absolute",
          left: 438,
          top: 8,
          width: 489,
          height: 67,
          boxSizing: "border-box",
          border: "1px solid #333",
          borderRadius: 7,
          background: "#fff",
        }}
      >
        {[RED, GRAY, BLACK].map((c, i) => (
          <div key={i} style={{ position: "absolute", left: 12, top: 12 + i * 21.5, width: 33, height: 2, background: c, marginTop: -1 }} />
        ))}
        {LEGEND_LABELS.map((t, i) => (
          <div
            key={"l" + i}
            style={{
              position: "absolute",
              left: 56,
              top: 12 + i * 21.5,
              transform: "translateY(-50%)",
              fontSize: 17,
              color: "#1a1a1a",
              whiteSpace: "nowrap",
              lineHeight: "20px",
            }}
          >
            {t}
          </div>
        ))}
      </div>
      <div
        style={{
          position: "absolute",
          left: 687,
          top: 88,
          transform: "translate(-50%, -50%)",
          fontSize: 19,
          fontWeight: 700,
          color: "#1c1cc0",
          whiteSpace: "nowrap",
          lineHeight: "22px",
        }}
      >
        {TITLE}
      </div>

      {/* arrows between the method boxes and the first column */}
      <svg style={{ position: "absolute", left: 0, top: 0 }} width={130} height={731}>
        <polygon points="88,178 103,178 103,166 112,192 103,219 103,209 88,209" fill="#333333" stroke="#1a1a1a" strokeWidth={1} />
        <polygon points="88,381 106,381 106,368 113,395 106,422 106,408 88,408" fill="#5b9cef" stroke="#2e5fa8" strokeWidth={1} />
        <polygon points="91,583 108,583 108,570 115,597 108,623 108,610 91,610" fill="#20b2a0" stroke="#137565" strokeWidth={1} />
      </svg>

      <SideLabel
        x={10} y={123} w={79} h={142} fill="#333333" stroke="#1a1a1a" color="#ffffff" textX={50} lineH={20}
        lines={[{ t: "RAW", bold: true, size: 16 }, { t: "(unfiltered signals)", size: 14 }]}
      />
      <SideLabel
        x={10} y={327} w={79} h={141} fill="#5b9cef" stroke="#2e5fa8" color="#111111" textX={46} lineH={16}
        lines={[{ t: "OIF & SOIF", bold: true, size: 16 }, { t: "(state of the art)", size: 15.5 }]}
      />
      <SideLabel
        x={10} y={513} w={82} h={160} fill="#20b2a0" stroke="#137565" color="#111111" textX={45} lineH={13.5}
        lines={[
          { t: "Reference UIF", bold: true, size: 16.5 },
          { t: "(training and valid.", size: 15.5 },
          { t: "on the same", size: 15.5 },
          { t: "machine tool)", size: 15.5 },
        ]}
      />
    </div>
  );
}
